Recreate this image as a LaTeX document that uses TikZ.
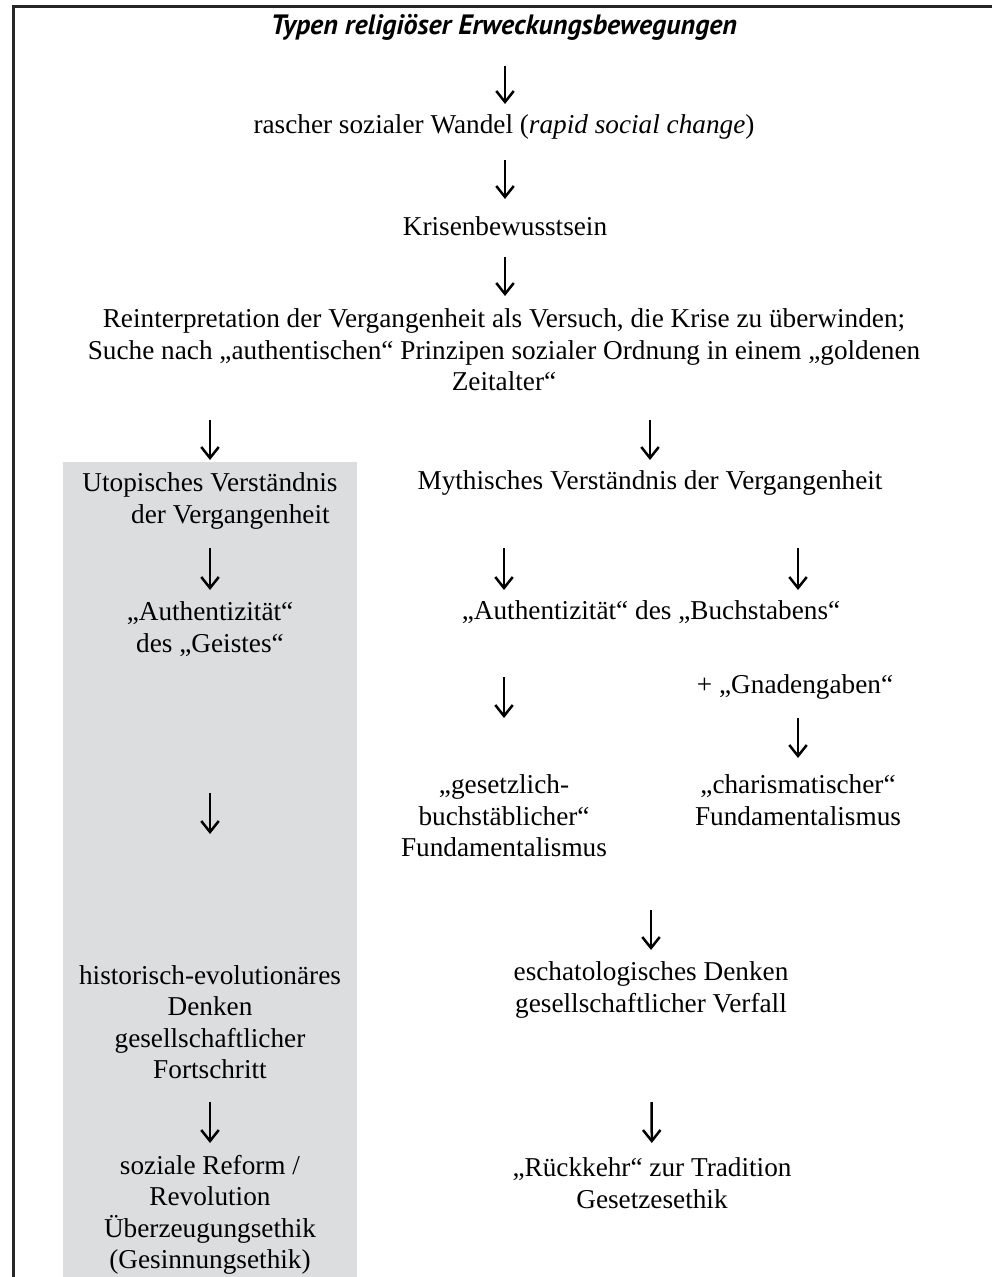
\documentclass[tikz,border=0pt]{standalone}
\usepackage{fontspec}
\setmainfont{Liberation Serif}
\newfontfamily\titelfont{PT Sans}
\usetikzlibrary{arrows.meta,calc}
\definecolor{kastengrau}{RGB}{220,221,223}
\tikzset{
    txt/.style={align=center, inner sep=0pt, font=\fontsize{10.9}{12.6}\selectfont},
    titel/.style={inner sep=0pt, font=\titelfont\bfseries\itshape\fontsize{11.2}{13}\selectfont},
    pfeil/.style 2 args={-{Straight Barb[length=4.4pt,width=7pt]}, line width=1pt, shorten <=#1*0.4pt, shorten >=#2*0.4pt}
}
\begin{document}
\begin{tikzpicture}[x=0.4pt,y=-0.4pt]
\useasboundingbox (0,0) rectangle (992,1277);
\fill[kastengrau] (63,462) rectangle (357,1277);
\draw[line width=1.2pt, black!85] (992,7) -- (13,7) -- (13,1277);
\node[titel](titel) at (504,27){Typen religiöser Erweckungsbewegungen};
\node[txt](wandel) at (504,127){rascher sozialer Wandel (\textit{rapid social change})};
\node[txt](krise) at (505,226){Krisenbewusstsein};
\node[txt](reint) at (504,350){Reinterpretation der Vergangenheit als Versuch, die Krise zu überwinden;\\ Suche nach „authentischen“ Prinzipen sozialer Ordnung in einem „goldenen\\ Zeitalter“};
\node[txt](utop) at (210,501){Utopisches Verständnis\\ \hspace*{1.5em}der Vergangenheit};
\node[txt](mythos) at (650,483){Mythisches Verständnis der Vergangenheit};
\node[txt](geist) at (210,629){„Authentizität“\\ des „Geistes“};
\node[txt](buchst) at (651,612){„Authentizität“ des „Buchstabens“};
\node[txt](gnade) at (795,687){+ „Gnadengaben“};
\node[txt](gesetz) at (504,816){„gesetzlich-\\ buchstäblicher“\\ Fundamentalismus};
\node[txt](charis) at (798,800){„charismatischer“\\ Fundamentalismus};
\node[txt](histor) at (210,1022){historisch-evolutionäres\\ Denken\\ gesellschaftlicher\\ Fortschritt};
\node[txt](escha) at (651,990){eschatologisches Denken\\ gesellschaftlicher Verfall};
\node[txt](reform) at (210,1215){soziale Reform /\\ Revolution\\ Überzeugungsethik\\ (Gesinnungsethik)};
\node[txt](rueck) at (652,1183){„Rückkehr“ zur Tradition\\ Gesetzesethik};
\draw[pfeil={39}{23}](titel.center -| krise)--(wandel.center -| krise);
\draw[pfeil={33}{27}](wandel.center -| krise)--(krise.center);
\draw[pfeil={31}{54}](krise.center)--(reint.center -| krise);
\draw[pfeil={70}{41}](reint.center -| utop)--(utop.center);
\draw[pfeil={70}{23}](reint.center -| mythos)--(mythos.center);
\draw[pfeil={47}{39}](utop.center)--(geist.center);
\draw[pfeil={65}{22}](mythos.center -| gesetz)--(buchst.center -| gesetz);
\draw[pfeil={65}{22}](mythos.center -| charis)--(buchst.center -| charis);
\draw[pfeil={164}{188}](geist.center)--(histor.center);
\draw[pfeil={65}{98}](buchst.center -| gesetz)--(gesetz.center);
\draw[pfeil={31}{42}](gnade.center -| charis)--(charis.center);
\draw[pfeil={94}{40}](gesetz.center -| escha)--(escha.center);
\draw[pfeil={80}{72}](histor.center)--(reform.center);
\draw[pfeil={112}{40}](escha.center)--(rueck.center);
\end{tikzpicture}
\end{document}
